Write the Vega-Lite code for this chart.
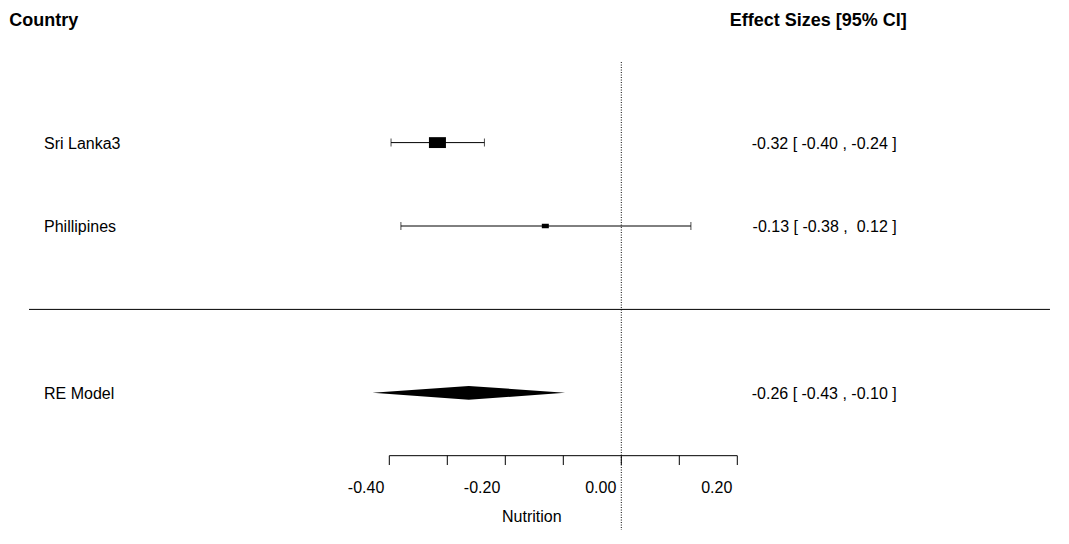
{
  "$schema": "https://vega.github.io/schema/vega-lite/v6.json",
  "width": 1069,
  "height": 544,
  "padding": 0,
  "autosize": {"type": "fit", "contains": "padding"},
  "background": "white",
  "config": {"view": {"stroke": null}, "text": {"font": "Liberation Sans", "fontSize": 16, "color": "black"}},
  "datasets": {
    "studies": [
      {"study": "Sri Lanka3", "row": 2, "est": -0.317, "lo": -0.397, "hi": -0.236, "weight": 70.8, "label": "-0.32 [ -0.40 , -0.24 ]"},
      {"study": "Phillipines", "row": 1, "est": -0.131, "lo": -0.380, "hi": 0.120, "weight": 29.2, "label": "-0.13 [ -0.38 , \u00a00.12 ]"}
    ],
    "model": [
      {"name": "RE Model", "row": -1, "est": -0.263, "lo": -0.429, "hi": -0.097, "label": "-0.26 [ -0.43 , -0.10 ]"}
    ],
    "ticks": [
      {"v": -0.4, "lab": "-0.40"},
      {"v": -0.3, "lab": ""},
      {"v": -0.2, "lab": "-0.20"},
      {"v": -0.1, "lab": ""},
      {"v": 0.0, "lab": "0.00"},
      {"v": 0.1, "lab": ""},
      {"v": 0.2, "lab": "0.20"}
    ],
    "headers": [
      {"text": "Country", "side": "left"},
      {"text": "Effect Sizes [95% CI]", "side": "right"}
    ]
  },
  "encoding": {},
  "layer": [
    {
      "data": {"values": [{}]},
      "mark": {"type": "rule", "color": "black", "strokeWidth": 1, "strokeDash": [1, 1.5]},
      "encoding": {
        "x": {"datum": 0, "type": "quantitative", "scale": {"domain": [-1.07121, 0.7719], "nice": false, "zero": false}, "axis": null},
        "y": {"datum": 2.966, "type": "quantitative", "scale": {"domain": [-2.8129, 3.7098], "nice": false, "zero": false}, "axis": null},
        "y2": {"datum": -2.645}
      }
    },
    {
      "data": {"values": [{}]},
      "mark": {"type": "rule", "color": "black", "strokeWidth": 1},
      "encoding": {
        "x": {"datum": -1.0212, "type": "quantitative"},
        "x2": {"datum": 0.7391},
        "y": {"datum": 0, "type": "quantitative"}
      }
    },
    {
      "data": {"name": "studies"},
      "mark": {"type": "rule", "color": "black", "strokeWidth": 1},
      "encoding": {
        "x": {"field": "lo", "type": "quantitative"},
        "x2": {"field": "hi"},
        "y": {"field": "row", "type": "quantitative"}
      }
    },
    {
      "data": {"name": "studies"},
      "transform": [{"fold": ["lo", "hi"], "as": ["end", "val"]}],
      "mark": {"type": "tick", "orient": "vertical", "size": 8, "thickness": 1, "color": "black"},
      "encoding": {
        "x": {"field": "val", "type": "quantitative"},
        "y": {"field": "row", "type": "quantitative"}
      }
    },
    {
      "data": {"name": "studies"},
      "mark": {"type": "point", "shape": "M-1,-0.64L1,-0.64L1,0.64L-1,0.64Z", "filled": true, "color": "black", "opacity": 1, "strokeWidth": 0},
      "encoding": {
        "x": {"field": "est", "type": "quantitative"},
        "y": {"field": "row", "type": "quantitative"},
        "size": {"field": "weight", "type": "quantitative", "scale": {"type": "pow", "exponent": 2, "domain": [0, 70.8], "range": [0, 289]}, "legend": null}
      }
    },
    {
      "data": {"name": "studies"},
      "mark": {"type": "text", "align": "left", "baseline": "alphabetic", "dy": 6},
      "encoding": {
        "x": {"datum": -0.9953, "type": "quantitative"},
        "y": {"field": "row", "type": "quantitative"},
        "text": {"field": "study"}
      }
    },
    {
      "data": {"name": "studies"},
      "mark": {"type": "text", "align": "right", "baseline": "alphabetic", "dy": 6},
      "encoding": {
        "x": {"datum": 0.4748, "type": "quantitative"},
        "y": {"field": "row", "type": "quantitative"},
        "text": {"field": "label"}
      }
    },
    {
      "data": {"name": "model"},
      "transform": [
        {"fold": ["lo", "est", "hi"], "as": ["pt", "val"]},
        {"calculate": "datum.row + (datum.pt === 'est' ? 0.083 : 0)", "as": "top"},
        {"calculate": "datum.row - (datum.pt === 'est' ? 0.083 : 0)", "as": "bottom"}
      ],
      "mark": {"type": "area", "color": "black", "opacity": 1, "orient": "vertical"},
      "encoding": {
        "x": {"field": "val", "type": "quantitative"},
        "y": {"field": "top", "type": "quantitative"},
        "y2": {"field": "bottom"}
      }
    },
    {
      "data": {"name": "model"},
      "mark": {"type": "text", "align": "left", "baseline": "alphabetic", "dy": 6},
      "encoding": {
        "x": {"datum": -0.9953, "type": "quantitative"},
        "y": {"field": "row", "type": "quantitative"},
        "text": {"field": "name"}
      }
    },
    {
      "data": {"name": "model"},
      "mark": {"type": "text", "align": "right", "baseline": "alphabetic", "dy": 6},
      "encoding": {
        "x": {"datum": 0.4748, "type": "quantitative"},
        "y": {"field": "row", "type": "quantitative"},
        "text": {"field": "label"}
      }
    },
    {
      "data": {"values": [{}]},
      "mark": {"type": "rule", "color": "black", "strokeWidth": 1},
      "encoding": {
        "x": {"datum": -0.4, "type": "quantitative"},
        "x2": {"datum": 0.2},
        "y": {"datum": -1.754, "type": "quantitative"}
      }
    },
    {
      "data": {"name": "ticks"},
      "mark": {"type": "rule", "color": "black", "strokeWidth": 1},
      "encoding": {
        "x": {"field": "v", "type": "quantitative"},
        "y": {"datum": -1.754, "type": "quantitative"},
        "y2": {"datum": -1.866}
      }
    },
    {
      "data": {"name": "ticks"},
      "mark": {"type": "text", "align": "right", "baseline": "alphabetic", "dx": -5},
      "encoding": {
        "x": {"field": "v", "type": "quantitative"},
        "y": {"datum": -2.205, "type": "quantitative"},
        "text": {"field": "lab"}
      }
    },
    {
      "data": {"values": [{"t": "Nutrition"}]},
      "mark": {"type": "text", "align": "center", "baseline": "alphabetic"},
      "encoding": {
        "x": {"datum": -0.1543, "type": "quantitative"},
        "y": {"datum": -2.553, "type": "quantitative"},
        "text": {"field": "t"}
      }
    },
    {
      "data": {"name": "headers"},
      "transform": [{"filter": "datum.side === 'left'"}],
      "mark": {"type": "text", "align": "left", "baseline": "alphabetic", "fontWeight": "bold", "fontSize": 18},
      "encoding": {
        "x": {"datum": -1.0551, "type": "quantitative"},
        "y": {"datum": 3.398, "type": "quantitative"},
        "text": {"field": "text"}
      }
    },
    {
      "data": {"name": "headers"},
      "transform": [{"filter": "datum.side === 'right'"}],
      "mark": {"type": "text", "align": "right", "baseline": "alphabetic", "fontWeight": "bold", "fontSize": 18},
      "encoding": {
        "x": {"datum": 0.4921, "type": "quantitative"},
        "y": {"datum": 3.398, "type": "quantitative"},
        "text": {"field": "text"}
      }
    }
  ]
}
